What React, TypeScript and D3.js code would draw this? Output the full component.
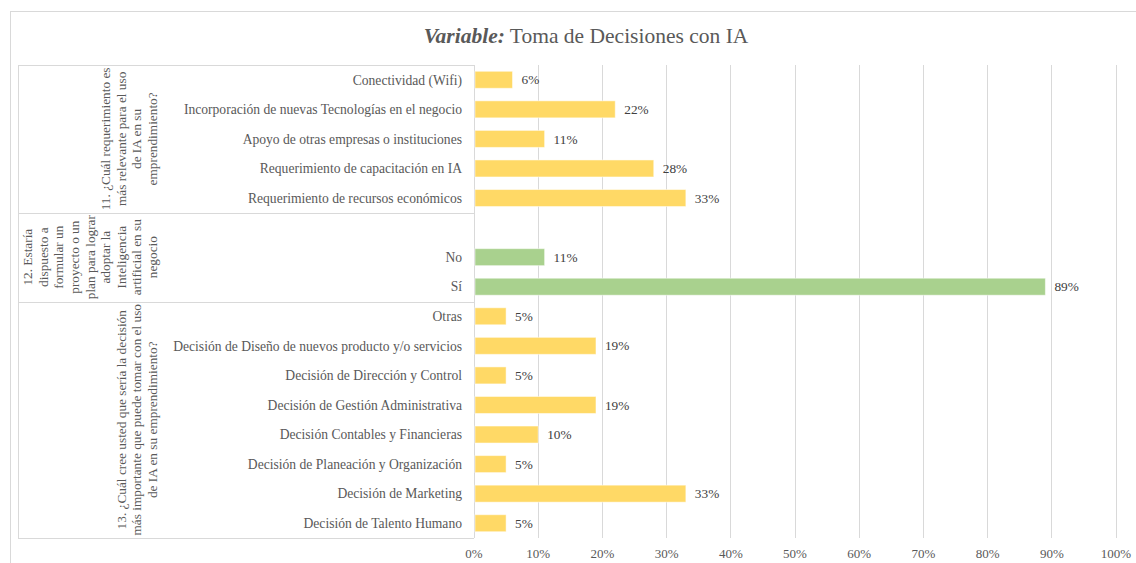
import React from "react";
import * as d3 from "d3";

const W = 1136;
const H = 563;

const titleBold = "Variable:";
const titleRest = " Toma de Decisiones con IA";

const categories11 = [
  "Conectividad (Wifi)",
  "Incorporación de nuevas Tecnologías en el negocio",
  "Apoyo de otras empresas o instituciones",
  "Requerimiento de capacitación en IA",
  "Requerimiento de recursos económicos",
];
const values11 = [0.06, 0.22, 0.11, 0.28, 0.33];

const categories12 = ["", "No", "Sí"];
const values12: (number | null)[] = [null, 0.11, 0.89];

const categories13 = [
  "Otras",
  "Decisión de Diseño de nuevos producto y/o servicios",
  "Decisión de Dirección y Control",
  "Decisión de Gestión Administrativa",
  "Decisión Contables y Financieras",
  "Decisión de Planeación y Organización",
  "Decisión de Marketing",
  "Decisión de Talento Humano",
];
const values13 = [0.05, 0.19, 0.05, 0.19, 0.1, 0.05, 0.33, 0.05];

const groupLabel11 = [
  "11. ¿Cuál requerimiento es",
  "más relevante para el uso",
  "de IA en su",
  "emprendimiento?",
];
const groupLabel12 = [
  "12. Estaría",
  "dispuesto a",
  "formular un",
  "proyecto o un",
  "plan para lograr",
  "adoptar la",
  "Inteligencia",
  "artificial en su",
  "negocio",
];
const groupLabel13 = [
  "13. ¿Cuál cree usted que sería la decisión",
  "más importante que puede tomar con el uso",
  "de IA en su emprendimiento?",
];

const xTicks = [0, 0.1, 0.2, 0.3, 0.4, 0.5, 0.6, 0.7, 0.8, 0.9, 1.0];

const YELLOW = "#FFD966";
const GREEN = "#A9D18E";

type Row = { key: string; label: string; value: number | null; color: string };

const groups = [
  { id: "g11", labels: groupLabel11, cats: categories11, vals: values11 as (number | null)[], color: YELLOW },
  { id: "g12", labels: groupLabel12, cats: categories12, vals: values12, color: GREEN },
  { id: "g13", labels: groupLabel13, cats: categories13, vals: values13 as (number | null)[], color: YELLOW },
];

const FONT = "Liberation Serif";

export default function App() {
  const plotLeft = 474;
  const plotRight = 1116;
  const plotTop = 65;
  const plotBottom = 538;
  const tableLeft = 18;
  const ts = { fontFamily: FONT };

  const rows: Row[] = [];
  groups.forEach((g) => {
    g.cats.forEach((c, i) => {
      rows.push({ key: `${g.id}-${i}`, label: c, value: g.vals[i], color: g.color });
    });
  });

  const x = d3.scaleLinear().domain([0, 1]).range([plotLeft, plotRight]);
  const y = d3
    .scaleBand<string>()
    .domain(rows.map((r) => r.key))
    .range([plotTop, plotBottom])
    .paddingInner(0.425)
    .paddingOuter(0.2125);
  const step = y.step();
  const fmt = d3.format(".0%");

  const bounds: { top: number; bottom: number; labels: string[] }[] = [];
  groups.forEach((g) => {
    const top = y(`${g.id}-0`)! - (step * y.paddingInner()) / 2;
    const bottom = top + step * g.cats.length;
    bounds.push({ top, bottom, labels: g.labels });
  });

  const lineGap = 15.6;
  const lastLineX = 157;

  return (
    <svg
      width={W}
      height={H}
      style={{ position: "absolute", left: 0, top: 0, background: "#fff", fontFamily: FONT }}
    >
      <rect x={10.5} y={11.5} width={W + 20} height={H + 20} fill="none" stroke="#D9D9D9" strokeWidth={1} />

      <text x={586} y={42.5} textAnchor="middle" fontSize={21.5} fill="#595959" style={ts}>
        <tspan fontWeight="bold" fontStyle="italic">{titleBold}</tspan>
        <tspan>{titleRest}</tspan>
      </text>

      {xTicks.map((t) => (
        <line
          key={`g${t}`}
          x1={Math.floor(x(t)) + 0.5}
          x2={Math.floor(x(t)) + 0.5}
          y1={plotTop}
          y2={plotBottom}
          stroke="#D9D9D9"
          strokeWidth={1}
        />
      ))}

      <line x1={tableLeft + 0.5} x2={tableLeft + 0.5} y1={plotTop} y2={plotBottom + 0.5} stroke="#D9D9D9" />
      {bounds.map((b, i) => (
        <line key={`bt${i}`} x1={tableLeft} x2={plotLeft} y1={Math.round(b.top) + 0.5} y2={Math.round(b.top) + 0.5} stroke="#D9D9D9" />
      ))}
      <line x1={tableLeft} x2={plotLeft} y1={plotBottom + 0.5} y2={plotBottom + 0.5} stroke="#D9D9D9" />

      {rows.map((r) =>
        r.value == null ? null : (
          <rect
            key={`b-${r.key}`}
            x={x(0) + 1}
            y={y(r.key)!}
            width={x(r.value) - x(0) - 1}
            height={y.bandwidth()}
            fill={r.color}
            stroke="#ffffff"
            strokeOpacity={0.5}
            strokeWidth={1}
          />
        )
      )}

      {rows.map((r) =>
        r.value == null ? null : (
          <text
            key={`v-${r.key}`}
            x={x(r.value) + 9}
            y={y(r.key)! + y.bandwidth() / 2}
            dy="0.35em"
            fontSize={13.3}
            fill="#404040"
            style={ts}
          >
            {fmt(r.value)}
          </text>
        )
      )}

      {rows.map((r) => (
        <text
          key={`c-${r.key}`}
          x={462}
          y={y(r.key)! + y.bandwidth() / 2}
          dy="0.35em"
          textAnchor="end"
          fontSize={13.6}
          fill="#595959"
          style={ts}
        >
          {r.label}
        </text>
      ))}

      {bounds.map((b, gi) => {
        const cy = (b.top + b.bottom) / 2;
        const n = b.labels.length;
        return (
          <g key={`gl${gi}`}>
            {b.labels.map((l, li) => {
              const lx = lastLineX - (n - 1 - li) * lineGap;
              return (
                <text
                  key={li}
                  transform={`translate(${lx},${cy}) rotate(-90)`}
                  textAnchor="middle"
                  fontSize={13.3}
                  fill="#595959"
                  style={ts}
                >
                  {l}
                </text>
              );
            })}
          </g>
        );
      })}

      {xTicks.map((t) => (
        <text key={`t${t}`} x={x(t)} y={558} textAnchor="middle" fontSize={13} fill="#595959" style={ts}>
          {fmt(t)}
        </text>
      ))}
    </svg>
  );
}
